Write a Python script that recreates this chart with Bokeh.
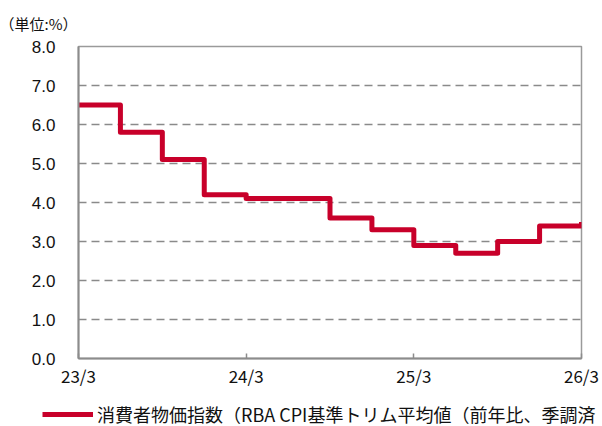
from bokeh.plotting import figure
from bokeh.layouts import column
from bokeh.models import (Range1d, FixedTicker, NumeralTickFormatter, Legend, LegendItem,
                          ColumnDataSource)
from bokeh.embed import file_html
from bokeh.resources import INLINE

# ---- data ----
quarters = ["23/3", "23/6", "23/9", "23/12", "24/3", "24/6", "24/9", "24/12",
            "25/3", "25/6", "25/9", "25/12", "26/3"]
values = [6.5, 5.8, 5.1, 4.2, 4.1, 4.1, 3.6, 3.3, 2.9, 2.7, 3.0, 3.4, 3.5]
x_tick_labels = ["23/3", "24/3", "25/3", "26/3"]
y_ticks = [0, 1, 2, 3, 4, 5, 6, 7, 8]
series_name = "消費者物価指数（RBA CPI基準トリム平均値（前年比、季調済"
unit_label = "（単位:%）"

LINE_COLOR = "#C8002A"

xs = list(range(len(quarters)))
src = ColumnDataSource(dict(x=xs, y=values))
tick_pos = [quarters.index(t) for t in x_tick_labels]

p = figure(width=602, height=395, x_range=Range1d(0, len(quarters) - 1), y_range=Range1d(0, 8),
           output_backend="svg", toolbar_location=None,
           min_border_left=78, min_border_right=21, min_border_top=46, min_border_bottom=37)
p.frame_align = False
p.background_fill_color = "white"
p.border_fill_color = "white"
p.outline_line_color = "#9a9a9a"
p.outline_line_width = 1.5

# unit label as title
p.title.text = unit_label
p.title.align = "left"
p.title.vertical_align = "top"
p.title.offset = -79
p.title.standoff = 22
p.title.text_font = "Noto Sans CJK JP"
p.title.text_font_size = "15px"
p.title.text_font_style = "normal"
p.title.text_color = "#111111"

# grid
p.xgrid.grid_line_color = None
p.ygrid.ticker = FixedTicker(ticks=y_ticks)
p.ygrid.grid_line_color = "#8a8a8a"
p.ygrid.grid_line_width = 1.5
p.ygrid.grid_line_dash = "8 5"

# y axis
p.yaxis.ticker = FixedTicker(ticks=y_ticks)
p.yaxis.formatter = NumeralTickFormatter(format="0.0")
p.yaxis.axis_line_color = "#8c8c8c"
p.yaxis.axis_line_width = 2
p.yaxis.major_tick_line_color = None
p.yaxis.minor_tick_line_color = None
p.yaxis.major_label_standoff = 17
p.yaxis.major_label_text_font = "Liberation Sans"
p.yaxis.major_label_text_font_size = "17px"
p.yaxis.major_label_text_color = "#111111"

# x axis
p.xaxis.ticker = FixedTicker(ticks=tick_pos)
p.xaxis.major_label_overrides = {pos: lab for pos, lab in zip(tick_pos, x_tick_labels)}
p.xaxis.axis_line_color = "#8c8c8c"
p.xaxis.axis_line_width = 2
p.xaxis.major_tick_line_color = "#8c8c8c"
p.xaxis.major_tick_line_width = 1.5
p.xaxis.major_tick_in = 5
p.xaxis.major_tick_out = 0
p.xaxis.minor_tick_line_color = None
p.xaxis.major_label_standoff = 4
p.xaxis.major_label_text_font = "Noto Sans CJK JP"
p.xaxis.major_label_text_font_size = "17px"
p.xaxis.major_label_text_color = "#111111"

# step line
p.step("x", "y", source=src, mode="after", line_color=LINE_COLOR, line_width=5,
       line_join="round")

# ---- legend strip below the chart ----
leg = figure(width=602, height=31, x_range=Range1d(0, 1), y_range=Range1d(100, 101),
             output_backend="svg", toolbar_location=None, x_axis_type=None, y_axis_type=None,
             min_border=0, min_border_left=0, min_border_right=0, min_border_top=0,
             min_border_bottom=0)
leg.frame_align = False
leg.outline_line_color = None
leg.xgrid.grid_line_color = None
leg.ygrid.grid_line_color = None
leg.background_fill_color = "white"
leg.border_fill_color = "white"
lr = leg.step("x", "y", source=src, mode="after", line_color=LINE_COLOR, line_width=5)

legend = Legend(items=[LegendItem(label=series_name, renderers=[lr])],
                location=(42, -1), orientation="horizontal",
                padding=0, margin=0, spacing=0, border_line_color=None,
                background_fill_alpha=0, glyph_width=51, glyph_height=18,
                label_height=18, label_standoff=4,
                label_text_font="Noto Sans CJK JP", label_text_font_size="18px",
                label_text_color="#111111")
leg.add_layout(legend)

layout = column(p, leg, spacing=0)
open("out.html", "w").write(file_html(layout, INLINE))
